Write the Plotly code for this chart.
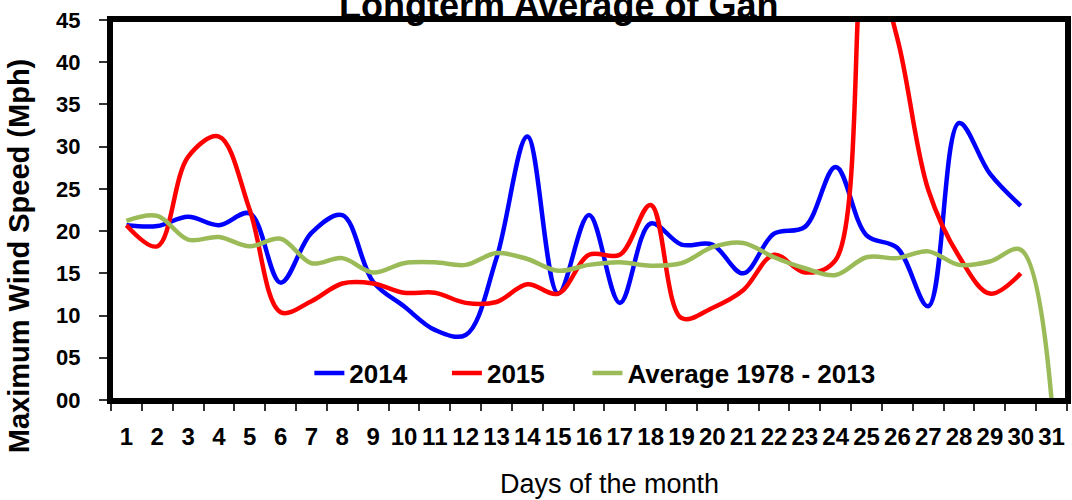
import plotly.graph_objects as go

days = [str(d) for d in range(1, 32)]

wind_2014 = [20.7, 20.6, 21.7, 20.7, 22.1, 13.9, 19.8, 21.9, 14.0, 11.1,
             8.3, 7.7, 16.8, 31.2, 12.6, 21.9, 11.5, 20.9, 18.4, 18.4,
             15.0, 19.7, 20.5, 27.6, 19.5, 18.0, 11.1, 32.8, 26.8, 23.0, None]

wind_2015 = [20.7, 18.2, 28.8, 31.2, 22.5, 10.4, 11.7, 13.8, 13.8, 12.7,
             12.7, 11.5, 11.6, 13.7, 12.6, 17.2, 17.2, 23.1, 9.7, 10.9,
             13.0, 17.2, 15.1, 16.6, 54.0, 42.8, 24.9, 17.0, 12.6, 15.0, None]

wind_avg = [21.2, 21.8, 19.0, 19.3, 18.2, 19.1, 16.2, 16.8, 15.1, 16.2,
            16.3, 16.0, 17.4, 16.7, 15.3, 16.0, 16.3, 15.9, 16.2, 18.1,
            18.6, 16.9, 15.6, 14.8, 16.9, 16.8, 17.6, 16.0, 16.4, 17.8, 0.0]

y_tick_vals = [0, 5, 10, 15, 20, 25, 30, 35, 40, 45]
y_tick_text = ["00", "05", "10", "15", "20", "25", "30", "35", "40", "45"]

series = [
    ("2014", wind_2014, "#0000FF", "legend", 0.2075),
    ("2015", wind_2015, "#FF0000", "legend2", 0.3514),
    ("Average 1978 - 2013", wind_avg, "#9BBB59", "legend3", 0.4984),
]

FONT = "Liberation Sans, Arial, sans-serif"

fig = go.Figure()
legend_layouts = {}
for name, vals, color, leg, lx in series:
    fig.add_trace(go.Scatter(
        x=days, y=vals, name=name, mode="lines", legend=leg,
        line=dict(color=color, width=4.5, shape="spline", smoothing=1),
        connectgaps=False,
    ))
    legend_layouts[leg] = dict(
        orientation="h", x=lx, xanchor="left", y=0.071, yanchor="middle",
        font=dict(family=FONT, size=26, color="black", weight="bold"),
        bgcolor="rgba(0,0,0,0)", borderwidth=0,
    )

fig.update_layout(
    width=1072, height=500,
    margin=dict(l=111, r=5, t=20, b=100, autoexpand=False),
    paper_bgcolor="white", plot_bgcolor="white",
    font=dict(family=FONT, color="black"),
    showlegend=True,
    xaxis=dict(
        type="category", tickson="boundaries", tickangle=0, automargin=False,
        range=[-0.5, len(days) - 0.5],
        showline=True, linecolor="black", linewidth=4, mirror=True,
        ticks="outside", ticklen=7, tickcolor="#333", tickwidth=1.5,
        showgrid=False, zeroline=False,
        tickfont=dict(family=FONT, size=24, color="black", weight="bold"),
        ticklabelstandoff=12,
    ),
    yaxis=dict(
        range=[0, 45], tickvals=y_tick_vals, ticktext=y_tick_text, automargin=False,
        showline=True, linecolor="black", linewidth=4, mirror=True,
        ticks="outside", ticklen=8, tickcolor="#333", tickwidth=1.5,
        showgrid=False, zeroline=False,
        tickfont=dict(family=FONT, size=22, color="black", weight="bold"),
        ticklabelstandoff=14,
    ),
    shapes=[
        dict(type="rect", xref="paper", yref="paper", x0=0, x1=1, y0=0, y1=1,
             line=dict(color="black", width=4), fillcolor="rgba(0,0,0,0)",
             layer="above"),
    ],
    annotations=[
        dict(text="<b>Longterm Average of Gan</b>", xref="paper", yref="paper",
             x=0.4677, y=1, xanchor="center", yanchor="bottom", yshift=-8,
             showarrow=False, font=dict(family=FONT, size=36, color="black")),
        dict(text="<b>Maximum Wind Speed (Mph)</b>", xref="paper", yref="paper",
             x=-0.096, y=0.379, xanchor="center", yanchor="middle", textangle=-90,
             showarrow=False, font=dict(family=FONT, size=29, color="black")),
        dict(text="Days of the month", xref="paper", yref="paper",
             x=0.521, y=-0.221, xanchor="center", yanchor="middle",
             showarrow=False, font=dict(family=FONT, size=27, color="black")),
    ],
)
fig.update_layout(**legend_layouts)

fig.write_html(
    "out.html",
    config={"displayModeBar": False},
    post_script="document.body.style.margin='0px';document.body.style.padding='0px';",
)
